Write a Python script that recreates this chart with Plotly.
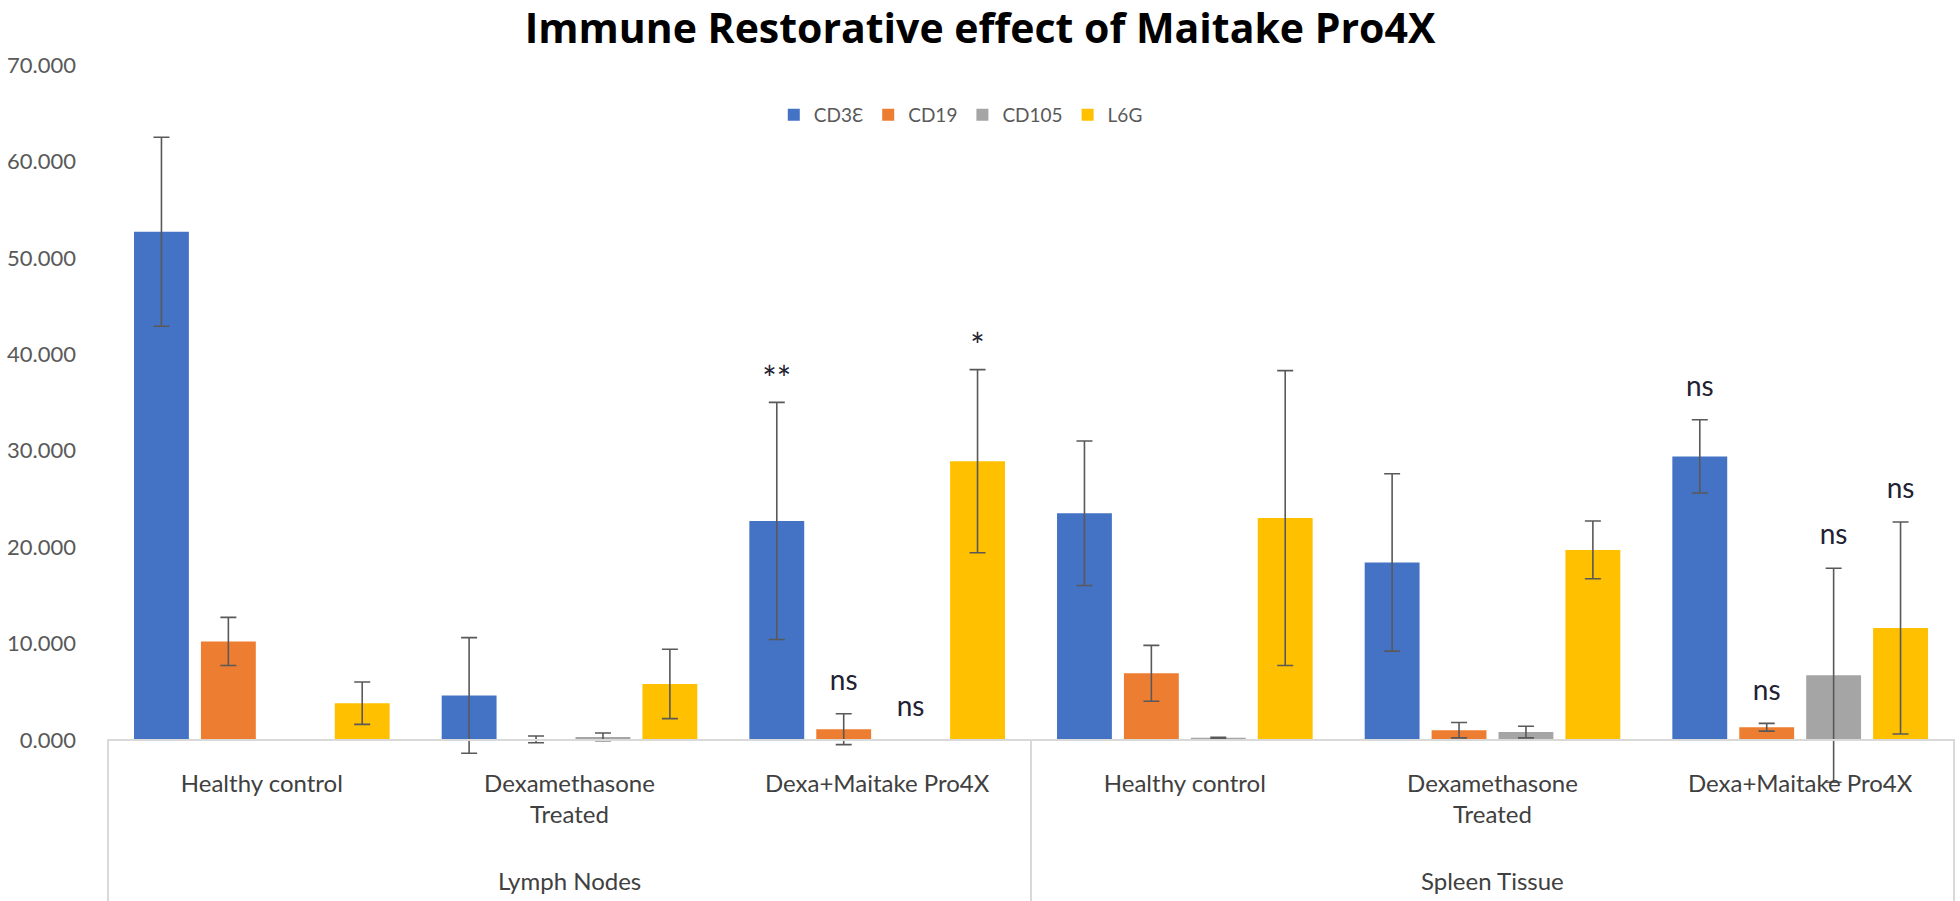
import plotly.graph_objects as go

tissue_names = ["Lymph Nodes", "Spleen Tissue"]
tissue_keys = ["\u200b", "\u200b\u200b"]
tissues = [tissue_keys[0]] * 3 + [tissue_keys[1]] * 3
groups = ["Healthy control", "Dexamethasone<br>Treated", "Dexa+Maitake Pro4X"] * 2

series_names = ["CD3Ɛ", "CD19", "CD105", "L6G"]
colors = ["#4472C4", "#ED7D31", "#A5A5A5", "#FFC000"]

cd3_vals = [52.7, 4.6, 22.7, 23.5, 18.4, 29.4]
cd3_err = [9.8, 6.0, 12.3, 7.5, 9.2, 3.8]
cd19_vals = [10.2, 0.05, 1.1, 6.9, 1.0, 1.3]
cd19_err = [2.5, 0.35, 1.6, 2.9, 0.8, 0.4]
cd105_vals = [None, 0.3, None, 0.2, 0.8, 6.7]
cd105_err = [None, 0.4, None, 0.05, 0.6, 11.1]
l6g_vals = [3.8, 5.8, 28.9, 23.0, 19.7, 11.6]
l6g_err = [2.2, 3.6, 9.5, 15.3, 3.0, 11.0]

cd3_sig = ["", "", "**", "", "", "ns"]
cd19_sig = ["", "", "ns", "", "", "ns"]
cd105_sig = ["", "", "ns", "", "", "ns"]
l6g_sig = ["", "", "*", "", "", "ns"]

y_ticks = [0, 10, 20, 30, 40, 50, 60, 70]

values = [cd3_vals, cd19_vals, cd105_vals, l6g_vals]
errors = [cd3_err, cd19_err, cd105_err, l6g_err]
sigs = [cd3_sig, cd19_sig, cd105_sig, l6g_sig]

x = [tissues, groups]
FONT = "Lato"
NS_PAD = 3.2
STAR_PAD = 2.1
Y_MIN = -5
AXIS_POS = -Y_MIN / (70 - Y_MIN)

fig = go.Figure()
for name, col, v, e in zip(series_names, colors, values, errors):
    fig.add_trace(go.Bar(
        x=x, y=v, name=name, offsetgroup=name, alignmentgroup="a",
        marker=dict(color=col, line=dict(width=0)),
        error_y=dict(type="data", array=e, visible=True, color="#595959",
                     thickness=1.6, width=8),
    ))

for name, v, e, s in zip(series_names, values, errors, sigs):
    ys = []
    for vv, ee, ss in zip(v, e, s):
        if not ss:
            ys.append(None)
        else:
            pad = STAR_PAD if "*" in ss else NS_PAD
            ys.append((vv or 0) + (ee or 0) + pad)
    sizes = [34 if "*" in t else 28 for t in s]
    fig.add_trace(go.Scatter(
        x=x, y=ys, mode="text", text=s, offsetgroup=name, alignmentgroup="a",
        textposition="middle center", showlegend=False, hoverinfo="skip",
        textfont=dict(family=FONT, size=sizes, color="#222233"),
    ))

# outer (tissue) labels, centred under each tissue's three groups, with dividers
n_groups = len(groups) // len(tissue_names)
for i, tname in enumerate(tissue_names):
    fig.add_annotation(x=i * n_groups + (n_groups - 1) / 2, xref="x",
                       y=-0.1286, yref="paper", yanchor="middle",
                       text=tname, showarrow=False,
                       font=dict(family=FONT, size=24, color="#404040"))
for i in range(len(tissue_names) + 1):
    fig.add_shape(type="line", xref="x", yref="paper",
                  x0=i * n_groups - 0.5, x1=i * n_groups - 0.5,
                  y0=-0.16, y1=AXIS_POS,
                  line=dict(color="#D9D9D9", width=2))

fig.update_layout(
    width=1960, height=901,
    paper_bgcolor="white", plot_bgcolor="white",
    margin=dict(l=107, r=5, t=65, b=113),
    barmode="group", bargap=0.13, bargroupgap=0.18,
    scattermode="group", scattergap=0.13,
    title=dict(text="<b>Immune Restorative effect of Maitake Pro4X</b>",
               x=0.5, xref="container", xanchor="center",
               y=1 - 29 / 901, yref="container", yanchor="middle",
               font=dict(family="Open Sans", size=41, color="#000000")),
    legend=dict(orientation="h", x=0.462, xanchor="center", y=0.931, yanchor="middle",
                font=dict(family=FONT, size=19, color="#595959"),
                bgcolor="rgba(0,0,0,0)", itemwidth=30, traceorder="normal"),
    font=dict(family=FONT),
)

fig.update_yaxes(range=[Y_MIN, 70], tickvals=y_ticks, tickformat=".3f",
                 showgrid=False, zeroline=False, showline=False,
                 ticklabelstandoff=30, automargin=False,
                 tickfont=dict(family=FONT, size=22, color="#595959"))
fig.update_xaxes(type="multicategory", anchor="free", position=AXIS_POS,
                 showline=True, linecolor="#D9D9D9", linewidth=2,
                 showgrid=False, ticks="", automargin=False,
                 ticklabelstandoff=22,
                 showdividers=True, dividercolor="#D9D9D9", dividerwidth=2,
                 tickfont=dict(family=FONT, size=24, color="#404040"))

fig.write_html("out.html", config={"displayModeBar": False},
               post_script="document.body.style.margin='0';document.body.style.overflow='hidden';")
